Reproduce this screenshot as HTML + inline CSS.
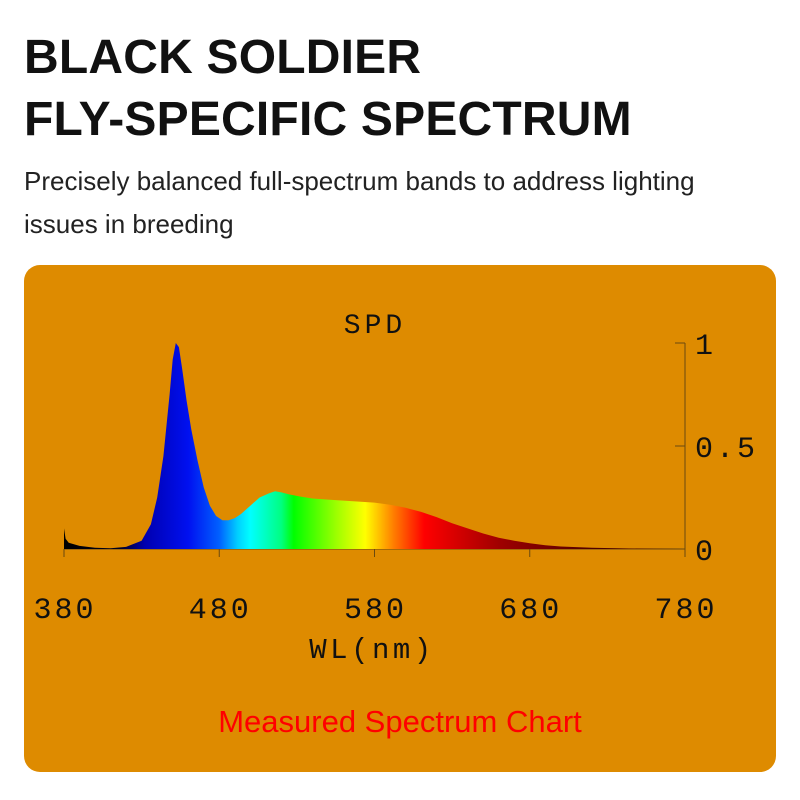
<!DOCTYPE html>
<html><head><meta charset="utf-8">
<style>
html,body{margin:0;padding:0;background:#fff;width:800px;height:800px;overflow:hidden}
.t{position:absolute;left:24px;font-family:"Liberation Sans",sans-serif;font-weight:bold;font-size:48px;color:#111;letter-spacing:0.2px}
.s{position:absolute;left:24px;font-family:"Liberation Sans",sans-serif;font-size:26px;color:#222}
</style></head><body>
<div class="t" style="top:30px">BLACK SOLDIER</div>
<div class="t" style="top:92px">FLY-SPECIFIC SPECTRUM</div>
<div class="s" style="top:166px">Precisely balanced full-spectrum bands to address lighting</div>
<div class="s" style="top:209px">issues in breeding</div>
<svg width="800" height="800" style="position:absolute;left:0;top:0">
<defs>
<linearGradient id="spec" gradientUnits="userSpaceOnUse" x1="64" y1="0" x2="685" y2="0">
<stop offset="0" stop-color="#000"/>
<stop offset="0.09" stop-color="#000020"/>
<stop offset="0.13" stop-color="#0000b0"/>
<stop offset="0.2" stop-color="#0010f0"/>
<stop offset="0.25" stop-color="#0060ff"/>
<stop offset="0.28" stop-color="#00d0ff"/>
<stop offset="0.3" stop-color="#00ffff"/>
<stop offset="0.35" stop-color="#00ff80"/>
<stop offset="0.37" stop-color="#00ff00"/>
<stop offset="0.44" stop-color="#a0ff00"/>
<stop offset="0.485" stop-color="#ffff00"/>
<stop offset="0.53" stop-color="#ff8000"/>
<stop offset="0.58" stop-color="#ff0000"/>
<stop offset="0.7" stop-color="#a00000"/>
<stop offset="0.85" stop-color="#500000"/>
<stop offset="1" stop-color="#300000"/>
</linearGradient>
</defs>
<rect x="24" y="265" width="752" height="507" rx="16" fill="#DE8B00"/>
<text x="375" y="333" text-anchor="middle" font-family="Liberation Mono,monospace" font-size="28" letter-spacing="4" fill="#111">SPD</text>
<g id="axes"></g>
<path id="area" fill="url(#spec)"/>
<text x="372" y="658" text-anchor="middle" font-family="Liberation Mono,monospace" font-size="29" letter-spacing="3.5" fill="#111">WL(nm)</text>
<text x="400" y="732" text-anchor="middle" font-family="Liberation Sans,sans-serif" font-size="31" fill="#ff0000">Measured Spectrum Chart</text>
</svg>
<script>
const wavelengths=[380,381,383,390,400,410,420,430,436,440,444,448,450,452,454,456,459,462,466,470,474,478,482,486,490,494,500,506,512,516,520,525,532,540,550,560,570,580,590,600,610,620,630,640,650,660,670,680,690,700,720,740,760,780];
const intensities=[0.1,0.05,0.03,0.015,0.006,0.004,0.01,0.04,0.12,0.25,0.45,0.75,0.92,1.0,0.98,0.88,0.72,0.58,0.43,0.3,0.21,0.16,0.14,0.14,0.15,0.17,0.21,0.25,0.27,0.28,0.275,0.265,0.255,0.245,0.24,0.235,0.23,0.225,0.215,0.2,0.18,0.155,0.125,0.1,0.075,0.055,0.04,0.028,0.018,0.012,0.006,0.003,0.001,0];
const xTicks=[380,480,580,680,780];
const yTicks=[0,0.5,1];
const yTickLabels=["0","0.5","1"];
const X=w=>64+(w-380)*(685-64)/400;
const Y=v=>549-v*206;
const NS="http://www.w3.org/2000/svg";
let d="M"+X(wavelengths[0])+","+Y(0);
wavelengths.forEach((w,i)=>{d+=" L"+X(w).toFixed(1)+","+Y(intensities[i]).toFixed(1);});
d+=" L"+X(780)+","+Y(0)+" Z";
document.getElementById('area').setAttribute('d',d);
const g=document.getElementById('axes');
function mk(tag,attrs,txt){const e=document.createElementNS(NS,tag);for(const k in attrs)e.setAttribute(k,attrs[k]);if(txt!==undefined)e.textContent=txt;g.appendChild(e);return e;}
let l=mk('line',{x1:X(380),y1:Y(0),x2:X(780),y2:Y(0),stroke:'#6a4a10','stroke-width':1});


l=mk('line',{x1:X(780),y1:Y(0)+8,x2:X(780),y2:Y(1),stroke:'#6a4a10','stroke-width':1});


xTicks.forEach(w=>{
 const t=mk('line',{x1:X(w),y1:Y(0),x2:X(w),y2:Y(0)+8,stroke:'#6a4a10'});
 
 
 const tx=mk('text',{x:X(w)+1,y:618,'text-anchor':'middle','font-family':'Liberation Mono,monospace','font-size':30,'letter-spacing':3,fill:'#111'},String(w));
 
 
});
yTicks.forEach((v,i)=>{
 const t=mk('line',{x1:X(780)-10,y1:Y(v),x2:X(780),y2:Y(v),stroke:'#6a4a10'});
 
 
 const tx=mk('text',{x:X(780)+10,y:Y(v)+11,'font-family':'Liberation Mono,monospace','font-size':30,'letter-spacing':3,fill:'#111'},yTickLabels[i]);
 
 
});
</script>
</body></html>
